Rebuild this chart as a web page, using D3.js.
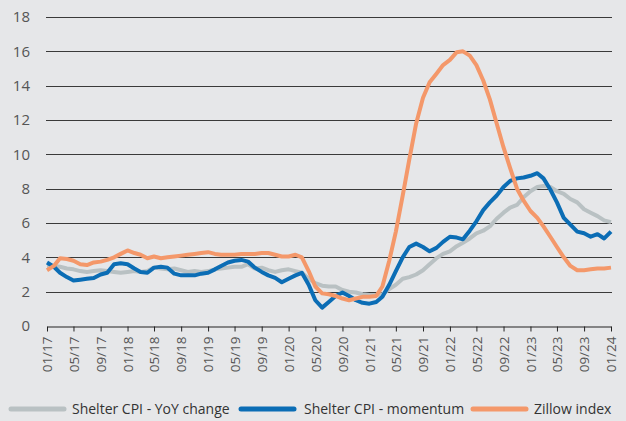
<!DOCTYPE html>
<html>
<head>
<meta charset="utf-8">
<script src="https://cdnjs.cloudflare.com/ajax/libs/d3/7.8.5/d3.min.js"></script>
<style>
  body { margin: 0; background: #e6e7e9; }
  svg { display: block; font-family: "Open Sans", sans-serif; }
</style>
</head>
<body>
<div id="chart"></div>
<script>
// Monthly observations, Jan 2017 .. Jan 2024
const startMonth = new Date(2017, 0, 1);

const shelterYoY = [
  3.5, 3.5, 3.45, 3.35, 3.3, 3.2, 3.15, 3.2, 3.25, 3.2, 3.15, 3.1,
  3.15, 3.2, 3.15, 3.2, 3.4, 3.35, 3.3, 3.35, 3.25, 3.15, 3.2, 3.15,
  3.2, 3.3, 3.35, 3.4, 3.45, 3.45, 3.6, 3.35, 3.4, 3.25, 3.15, 3.25,
  3.3, 3.2, 3.1, 2.75, 2.5, 2.35, 2.3, 2.3, 2.1, 2.0, 1.95, 1.85,
  1.8, 1.8, 1.85, 2.15, 2.4, 2.75, 2.85, 3.0, 3.25, 3.6, 3.95, 4.2,
  4.35, 4.65, 4.85, 5.1, 5.4, 5.55, 5.8, 6.25, 6.6, 6.9, 7.05, 7.5,
  7.85, 8.1, 8.15, 8.1, 7.85, 7.7, 7.4, 7.2, 6.8, 6.6, 6.4, 6.15,
  6.05
];

const shelterMomentum = [
  3.7, 3.45, 3.1, 2.85, 2.65, 2.7, 2.75, 2.8, 3.0, 3.1, 3.6, 3.65,
  3.6, 3.35, 3.15, 3.1, 3.4, 3.45, 3.4, 3.05, 2.95, 2.95, 2.95, 3.05,
  3.1, 3.3, 3.5, 3.7, 3.8, 3.85, 3.75, 3.4, 3.15, 2.95, 2.8, 2.55,
  2.75, 2.95, 3.1, 2.4, 1.5, 1.07, 1.4, 1.75, 1.95, 1.75, 1.5, 1.35,
  1.3, 1.4, 1.7, 2.4, 3.2, 4.0, 4.6, 4.8, 4.6, 4.35, 4.55, 4.9,
  5.2, 5.15, 5.05, 5.55, 6.1, 6.75, 7.2, 7.6, 8.1, 8.45, 8.6, 8.65,
  8.75, 8.9, 8.6, 7.95, 7.2, 6.3, 5.9, 5.5, 5.4, 5.2, 5.35, 5.1,
  5.5
];

const zillowIndex = [
  3.25, 3.5, 3.95, 3.9, 3.8, 3.6, 3.55, 3.7, 3.75, 3.85, 4.0, 4.2,
  4.4, 4.25, 4.15, 3.95, 4.05, 3.95, 4.0, 4.05, 4.1, 4.15, 4.2, 4.25,
  4.3, 4.2, 4.15, 4.15, 4.15, 4.2, 4.2, 4.2, 4.25, 4.25, 4.15, 4.05,
  4.05, 4.15, 4.0, 3.2, 2.3, 1.9, 1.85, 1.75, 1.6, 1.5, 1.6, 1.7,
  1.7, 1.75, 2.3, 3.8, 5.5, 7.6, 9.7, 11.8, 13.3, 14.2, 14.7, 15.2,
  15.5, 15.95, 16.0, 15.75, 15.2, 14.3, 13.2, 11.8, 10.4, 9.2, 8.0, 7.3,
  6.7, 6.3, 5.8, 5.2, 4.6, 4.0, 3.5, 3.25, 3.25, 3.3, 3.35, 3.35,
  3.4
];

const seriesNames = ['Shelter CPI - YoY change', 'Shelter CPI - momentum', 'Zillow index'];
const seriesColors = ['#b9c1c3', '#0b6db5', '#f4986a'];
const yTicks = [0, 2, 4, 6, 8, 10, 12, 14, 16, 18];

const W = 626, H = 421;
const margin = { top: 17, right: 14, bottom: 95, left: 47 };

const months = shelterYoY.map((_, i) => d3.timeMonth.offset(startMonth, i));
const series = [shelterYoY, shelterMomentum, zillowIndex].map((vals, k) => ({
  name: seriesNames[k],
  color: seriesColors[k],
  values: vals.map((v, i) => ({ date: months[i], value: v }))
}));

const svg = d3.select('#chart').append('svg')
  .attr('width', W)
  .attr('height', H);

svg.append('rect').attr('width', W).attr('height', H).attr('fill', '#e6e7e9');

const x = d3.scaleTime()
  .domain([months[0], months[months.length - 1]])
  .range([margin.left, W - margin.right - 1]);

const y = d3.scaleLinear()
  .domain([0, 18])
  .range([H - margin.bottom, margin.top]);

// horizontal grid
svg.append('g')
  .selectAll('line')
  .data(yTicks.filter(d => d > 0))
  .join('line')
  .attr('x1', margin.left - 1)
  .attr('x2', W - margin.right)
  .attr('y1', d => Math.round(y(d)) + 0.5)
  .attr('y2', d => Math.round(y(d)) + 0.5)
  .attr('stroke', '#3a3a3a')
  .attr('stroke-width', 1);

// y labels
svg.append('g')
  .selectAll('text')
  .data(yTicks)
  .join('text')
  .attr('x', 30)
  .attr('y', d => y(d))
  .attr('dy', '0.36em')
  .attr('text-anchor', 'end')
  .attr('font-size', 15)
  .attr('fill', '#555')
  .text(d => d);

// x axis
const xTickDates = d3.timeMonth.every(4).range(months[0], d3.timeMonth.offset(months[months.length - 1], 1));
const xAxis = svg.append('g')
  .attr('transform', `translate(0,${Math.round(y(0)) + 0.5})`)
  .call(d3.axisBottom(x)
    .tickValues(xTickDates)
    .tickSize(5)
    .tickSizeOuter(0)
    .tickFormat(d3.timeFormat('%m/%y')));

xAxis.select('.domain').attr('stroke', '#222').attr('stroke-width', 1.2);
xAxis.selectAll('.tick line').attr('stroke', '#222');
xAxis.selectAll('.tick text')
  .attr('font-family', '"Open Sans", sans-serif')
  .attr('font-size', 13.5)
  .attr('fill', '#555')
  .attr('transform', 'rotate(-90)')
  .attr('text-anchor', 'end')
  .attr('x', -10)
  .attr('y', 0)
  .attr('dy', '0.35em');

// lines
const line = d3.line()
  .x(d => x(d.date))
  .y(d => y(d.value));

svg.append('g')
  .selectAll('path')
  .data(series)
  .join('path')
  .attr('d', d => line(d.values))
  .attr('fill', 'none')
  .attr('stroke', d => d.color)
  .attr('stroke-width', 4)
  .attr('stroke-linejoin', 'round');

// legend
const legendPos = [
  { lx: 11, tx: 72 },
  { lx: 241, tx: 304 },
  { lx: 473, tx: 534 }
];
const legend = svg.append('g')
  .selectAll('g')
  .data(series)
  .join('g')
  .attr('transform', (d, i) => `translate(0,409)`);

legend.append('line')
  .attr('x1', (d, i) => legendPos[i].lx)
  .attr('x2', (d, i) => legendPos[i].lx + 53)
  .attr('stroke', d => d.color)
  .attr('stroke-width', 5)
  .attr('stroke-linecap', 'round');

legend.append('text')
  .attr('x', (d, i) => legendPos[i].tx)
  .attr('dy', '0.35em')
  .attr('font-size', 14)
  .attr('fill', '#333')
  .text(d => d.name);
</script>
</body>
</html>
